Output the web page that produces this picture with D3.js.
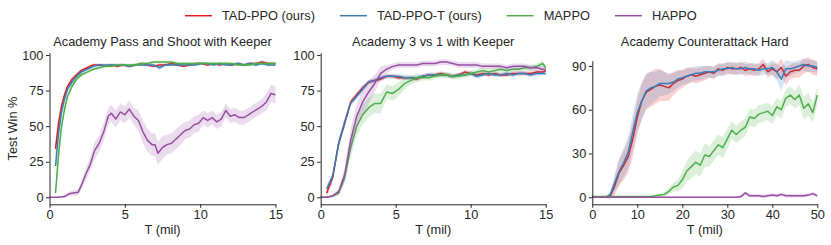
<!DOCTYPE html>
<html>
<head>
<meta charset="utf-8">
<script src="https://cdn.jsdelivr.net/npm/d3@7"></script>
<style>
  body { margin: 0; background: #fff; }
  svg text { font-family: "Liberation Sans", Arial, sans-serif; fill: #262626; }
</style>
</head>
<body>
<svg id="chart" width="831" height="245"></svg>
<script>
"use strict";

var methods = ['TAD-PPO (ours)', 'TAD-PPO-T (ours)', 'MAPPO', 'HAPPO'];
var colors = ['#e41a1c', '#377eb8', '#4daf4a', '#984ea3'];
var titles = ['Academy Pass and Shoot with Keeper', 'Academy 3 vs 1 with Keeper', 'Academy Counterattack Hard'];

var xTicks15 = [0, 5, 10, 15];
var xTicks50 = [0, 10, 20, 30, 40, 50];
var yTicks100 = [0, 25, 50, 75, 100];
var yTicks90 = [0, 30, 60, 90];

// Pass and Shoot with Keeper
var p1T = [0.4, 0.6, 0.8, 1.0, 1.2, 1.5, 1.8, 2.1, 2.5, 2.9,
  3.3, 3.7, 4.1, 4.5, 4.9, 5.3, 5.7, 6.1, 6.5, 6.9,
  7.3, 7.7, 8.1, 8.5, 8.9, 9.3, 9.7, 10.1, 10.5, 10.9,
  11.3, 11.7, 12.1, 12.5, 12.9, 13.3, 13.7, 14.1, 14.5, 15.0];
var p1Red = [34, 52, 64, 72, 78, 83, 86, 89, 91, 93,
  93, 92, 93, 92, 93, 92, 93, 94, 93, 92,
  93, 93, 94, 93, 92, 93, 94, 94, 93, 94,
  93, 94, 93, 94, 93, 94, 94, 95, 94, 94];
var p1Blue = [22, 45, 60, 69, 76, 81, 85, 88, 90, 92,
  93, 93, 93, 93, 93, 92, 93, 93, 93, 93,
  91, 93, 93, 93, 93, 93, 93, 94, 94, 93,
  94, 93, 93, 94, 93, 94, 93, 94, 93, 93];
var p1Green = [3, 30, 50, 62, 71, 78, 83, 86, 88, 90,
  91, 92, 92, 93, 93, 93, 93, 94, 94, 95,
  95, 95, 95, 94, 94, 94, 94, 94, 94, 94,
  94, 94, 94, 93, 93, 93, 94, 94, 94, 94];
var p1RedSd = [5, 4, 3, 2.5, 2, 2, 1.5, 1.5, 1, 1,
  1, 1, 1, 1, 1, 1, 1, 1, 1, 1,
  1, 1, 1, 1, 1, 1, 1, 1, 1, 1,
  1, 1, 1, 1, 1, 1, 1, 1.5, 1, 1];
var p1BlueSd = [8, 5, 3, 2.5, 2, 2, 1.5, 1.5, 1, 1,
  1, 1, 1, 1, 1, 1, 1, 1, 1, 1,
  1.5, 1, 1, 1, 1, 1, 1, 1, 1, 1,
  1, 1, 1, 1, 1, 1, 1, 1, 1, 1];
var p1GreenSd = [3, 6, 4, 3, 2, 2, 1.5, 1.5, 1, 1,
  1, 1, 1, 1, 1, 1, 1, 1, 1, 1,
  1, 1, 1, 1, 1, 1, 1, 1, 1, 1,
  1, 1, 1, 1, 1, 1, 1, 1, 1, 1];
var p1PurpleT = [0, 0.5, 1.0, 1.3, 1.6, 1.9,
  2.1, 2.4, 2.7, 3.0, 3.3, 3.6, 3.9,
  4.1, 4.4, 4.7, 5.0, 5.3, 5.6, 5.9,
  6.2, 6.5, 6.8, 7.0, 7.2, 7.5, 7.8,
  8.1, 8.4, 8.7, 9.0, 9.3, 9.6, 9.9,
  10.2, 10.5, 10.8, 11.1, 11.4, 11.7, 12.0,
  12.3, 12.6, 12.9, 13.2, 13.5, 13.8, 14.1,
  14.4, 14.7, 15.0];
var p1Purple = [0, 0, 0.5, 2.5, 3, 3.5,
  8, 16, 23, 33, 38, 46, 57,
  59, 55, 60, 58, 62, 57, 54,
  46, 40, 37, 37, 31, 35, 37,
  38, 41, 44, 47, 48, 51, 52,
  56, 54, 56, 53, 55, 61, 57,
  58, 56, 56, 58, 60, 62, 64,
  67, 73, 72];
var p1PurpleSd = [0.3, 0.3, 1, 1.5, 2, 2,
  3, 4, 5, 6, 6, 6, 6,
  6, 6, 6, 6, 6, 6, 7,
  8, 8, 8, 8, 8, 8, 7,
  7, 7, 7, 6, 6, 6, 6,
  5, 5, 5, 5, 5, 5, 5,
  5, 5, 5, 5, 5, 5, 5,
  6, 6, 6];

// 3 vs 1 with Keeper
var p2T = [0, 0.4, 0.8, 1.2, 1.6, 2.0, 2.4, 2.8, 3.2, 3.6,
  4.0, 4.4, 4.8, 5.2, 5.6, 6.0, 6.4, 6.8, 7.2, 7.6,
  8.0, 8.4, 8.8, 9.2, 9.6, 10.0, 10.4, 10.8, 11.2, 11.6,
  12.0, 12.4, 12.8, 13.2, 13.6, 14.0, 14.4, 14.8, 15.0];
var p2Red = [null, 3, 14, 38, 52, 67, 72, 77, 81, 82,
  83, 85, 85, 84, 84, 84, 83, 85, 86, 86,
  87, 86, 85, 86, 88, 87, 86, 87, 86, 87,
  86, 86, 87, 87, 87, 87, 88, 88, 89];
var p2Blue = [null, 6, 15, 38, 53, 66, 71, 76, 81, 82,
  84, 85, 85, 85, 84, 84, 84, 85, 86, 86,
  86, 86, 85, 86, 86, 87, 85, 86, 87, 86,
  86, 87, 86, 87, 87, 86, 87, 87, 87];
var p2Green = [0, 0, 1, 3, 14, 35, 50, 58, 63, 66,
  66, 74, 73, 76, 80, 82, 84, 84, 84, 85,
  86, 86, 85, 85, 86, 87, 88, 89, 88, 89,
  90, 89, 90, 90, 91, 91, 92, 94, 91];
var p2Purple = [0, 0, 1, 4, 16, 40, 57, 67, 74, 80,
  87, 90, 92, 93, 93, 93, 93, 94, 94, 94,
  95, 95, 94, 93, 93, 93, 93, 92, 92, 92,
  92, 91, 92, 92, 92, 91, 91, 90, 90];
var p2RedSd = [0, 3, 3, 3, 3, 2, 2, 2, 1.5, 1.5,
  1.5, 1.5, 1.5, 1.5, 1.5, 1.5, 1.5, 1.5, 1.5, 1.5,
  1.5, 1.5, 1.5, 1.5, 1.5, 1.5, 1.5, 1.5, 1.5, 1.5,
  1.5, 1.5, 1.5, 1.5, 1.5, 1.5, 1.5, 1.5, 1.5];
var p2BlueSd = [0, 3, 3, 3, 3, 2, 2, 2, 1.5, 1.5,
  1.5, 1.5, 1.5, 1.5, 1.5, 1.5, 1.5, 1.5, 1.5, 1.5,
  1.5, 1.5, 1.5, 1.5, 1.5, 1.5, 2, 1.5, 1.5, 1.5,
  1.5, 1.5, 1.5, 1.5, 1.5, 1.5, 1.5, 1.5, 1.5];
var p2GreenSd = [0, 0, 1, 2, 4, 6, 7, 7, 7, 7,
  7, 5, 5, 5, 4, 3, 3, 2, 2, 2,
  2, 2, 2, 2, 2, 2, 2, 2, 2, 2,
  2, 2, 2, 2, 2, 2, 2, 2, 2];
var p2PurpleSd = [0, 0, 1, 2, 5, 8, 9, 9, 8, 6,
  5, 3, 2, 2, 2, 2, 2, 2, 2, 2,
  2, 2, 2, 2, 2, 2, 2, 2, 2, 2,
  2, 2, 2, 2, 2, 2, 2, 2, 2];

// Counterattack Hard
var p3T = [0, 1, 2, 3, 4, 5, 6, 7, 8, 9,
  10, 11, 12, 13, 14, 15, 16, 17, 18, 19,
  20, 21, 22, 23, 24, 25, 26, 27, 28, 29,
  30, 31, 32, 33, 34, 35, 36, 37, 38, 39,
  40, 41, 42, 43, 44, 45, 46, 47, 48, 49, 50];
var p3Red = [0, 0, 0, 0, 1, 8, 17, 22, 28, 40,
  55, 66, 72, 74, 76, 77, 76, 75, 78, 80,
  81, 83, 84, 83, 84, 85, 86, 85, 88, 87,
  89, 88, 88, 89, 87, 88, 87, 88, 91, 86,
  88, 86, 89, 83, 86, 87, 87, 90, 91, 89, 88];
var p3Blue = [0, 0, 0, 0, 2, 10, 18, 24, 31, 45,
  58, 66, 73, 75, 76, 78, 78, 78, 79, 81,
  82, 83, 84, 85, 85, 86, 86, 86, 87, 88,
  88, 89, 88, 88, 89, 88, 88, 87, 88, 88,
  89, 86, 81, 88, 88, 89, 90, 91, 90, 90, 89];
var p3Green = [0.5, 0.5, 0.5, 0.5, 0.5, 0.5, 0.5, 0.5, 0.5, 0.5,
  0.5, 0.5, 0.5, 0.5, 1, 1.5, 2, 4, 7, 8,
  12, 18, 21, 24, 22, 29, 28, 32, 36, 34,
  40, 46, 43, 46, 48, 55, 54, 57, 58, 59,
  56, 62, 60, 68, 70, 67, 70, 61, 64, 58, 70];
var p3Purple = [0, 0, 0, 0, 0, 0, 0, 0, 0, 0,
  0, 0, 0, 0, 0, 0, 0, 0, 0, 0,
  0, 0, 0, 0, 0, 0, 0, 0, 0, 0,
  0, 0, 0, 0.5, 3, 1, 1, 1, 0.5, 1,
  1.5, 1, 2, 1, 1, 1, 1, 1, 1.5, 2.5, 1];
var p3RedSd = [0, 0, 0, 0, 2, 6, 9, 10, 11, 12,
  12, 12, 12, 12, 12, 11, 10, 9, 8, 7,
  6, 6, 5, 5, 5, 5, 4, 4, 4, 4,
  4, 4, 4, 4, 4, 4, 4, 4, 4, 4,
  4, 5, 6, 6, 5, 5, 5, 5, 5, 5, 5];
var p3BlueSd = [0, 0, 0, 0, 2, 6, 9, 10, 11, 12,
  13, 13, 12, 11, 10, 9, 8, 7, 6, 6,
  5, 5, 5, 5, 5, 4, 4, 4, 4, 4,
  4, 4, 4, 4, 4, 4, 4, 4, 4, 4,
  5, 6, 8, 6, 5, 4, 4, 4, 4, 4, 4];
var p3GreenSd = [0.3, 0.3, 0.3, 0.3, 0.3, 0.3, 0.3, 0.3, 0.3, 0.3,
  0.3, 0.3, 0.3, 0.5, 1, 1, 1.5, 2, 3, 4,
  6, 7, 8, 8, 8, 8, 7, 7, 7, 7,
  7, 6, 6, 6, 6, 6, 6, 6, 6, 6,
  6, 6, 6, 6, 6, 6, 7, 8, 8, 7, 6];
var p3PurpleSd = [0.3, 0.3, 0.3, 0.3, 0.3, 0.3, 0.3, 0.3, 0.3, 0.3,
  0.3, 0.3, 0.3, 0.3, 0.3, 0.3, 0.3, 0.3, 0.3, 0.3,
  0.3, 0.3, 0.3, 0.3, 0.3, 0.3, 0.3, 0.3, 0.3, 0.3,
  0.3, 0.3, 0.3, 1.2, 1.2, 1.2, 1.2, 1.2, 1.2, 1.2,
  1.2, 1.2, 1.2, 1.2, 1.2, 1.2, 1.2, 1.2, 1.2, 1.2, 1.2];

var panels = [
  { title: titles[0], xMax: 15, xTicks: xTicks15, yTicks: yTicks100, yDomain: [-4.9, 101.6],
    left: 49.5, right: 275.5, top: 52.7, ylabel: true,
    series: [[p1T, p1Red, p1RedSd], [p1T, p1Blue, p1BlueSd], [p1T, p1Green, p1GreenSd], [p1PurpleT, p1Purple, p1PurpleSd]] },
  { title: titles[1], xMax: 15, xTicks: xTicks15, yTicks: yTicks100, yDomain: [-4.9, 101.6],
    left: 320.7, right: 545.7, top: 52.7,
    series: [[p2T, p2Red, p2RedSd], [p2T, p2Blue, p2BlueSd], [p2T, p2Green, p2GreenSd], [p2T, p2Purple, p2PurpleSd]] },
  { title: titles[2], xMax: 50, xTicks: xTicks50, yTicks: yTicks90, yDomain: [-4.8, 93.6],
    left: 592.3, right: 817.3, top: 60.7,
    series: [[p3T, p3Red, p3RedSd], [p3T, p3Blue, p3BlueSd], [p3T, p3Green, p3GreenSd], [p3T, p3Purple, p3PurpleSd]] }
];

var bottom = 204.3;
var fontSize = '12.8px';
var svg = d3.select('#chart');

panels.forEach(function(p, pi){
  var x = d3.scaleLinear().domain([0, p.xMax]).range([p.left, p.right]);
  var y = d3.scaleLinear().domain(p.yDomain).range([bottom, p.top]);

  var g = svg.append('g');

  p.series.forEach(function(s, si){
    var pts = s[0].map(function(t, i){ return { t: t, v: s[1][i], sd: s[2][i] }; });
    var ok = function(d){ return d.v != null; };

    g.append('path')
      .datum(pts)
      .attr('d', d3.area().defined(ok)
        .x(function(d){ return x(d.t); })
        .y0(function(d){ return y(d.v - d.sd); })
        .y1(function(d){ return y(d.v + d.sd); }))
      .style('fill', colors[si])
      .style('fill-opacity', 0.2)
      .style('stroke', 'none');

    g.append('path')
      .datum(pts)
      .attr('d', d3.line().defined(ok)
        .x(function(d){ return x(d.t); })
        .y(function(d){ return y(d.v); }))
      .style('fill', 'none')
      .style('stroke', colors[si])
      .style('stroke-width', 1.5)
      .style('stroke-linejoin', 'round');
  });

  var xAxis = g.append('g')
    .attr('transform', 'translate(0,' + bottom + ')')
    .call(d3.axisBottom(x).tickValues(p.xTicks).tickSizeInner(3.5).tickSizeOuter(0).tickPadding(2.2));

  var yAxis = g.append('g')
    .attr('transform', 'translate(' + p.left + ',0)')
    .call(d3.axisLeft(y).tickValues(p.yTicks).tickSizeInner(3.5).tickSizeOuter(0).tickPadding(2.5));

  [xAxis, yAxis].forEach(function(a){
    a.selectAll('path, line').style('stroke', '#262626').style('stroke-width', 1);
    a.selectAll('text').style('font-size', fontSize).style('fill', '#262626')
      .style('font-family', '"Liberation Sans", Arial, sans-serif');
  });

  g.append('text')
    .attr('x', (p.left + p.right) / 2)
    .attr('y', 45.5)
    .attr('text-anchor', 'middle')
    .style('font-size', fontSize)
    .text(p.title);

  g.append('text')
    .attr('x', (p.left + p.right) / 2)
    .attr('y', 233.5)
    .attr('text-anchor', 'middle')
    .style('font-size', fontSize)
    .text('T (mil)');

  if (p.ylabel) {
    g.append('text')
      .attr('transform', 'translate(17,' + ((bottom + p.top) / 2) + ') rotate(-90)')
      .attr('text-anchor', 'middle')
      .style('font-size', fontSize)
      .text('Test Win %');
  }
});

// legend
var legend = svg.append('g');
var lx = 185;
methods.forEach(function(m, i){
  legend.append('line')
    .attr('x1', lx).attr('x2', lx + 27)
    .attr('y1', 15.7).attr('y2', 15.7)
    .style('stroke', colors[i])
    .style('stroke-width', 1.5);
  var t = legend.append('text')
    .attr('x', lx + 37)
    .attr('y', 15.7)
    .attr('dy', '0.35em')
    .style('font-size', fontSize)
    .text(m);
  lx += 37 + t.node().getComputedTextLength() + 25;
});
</script>
</body>
</html>
